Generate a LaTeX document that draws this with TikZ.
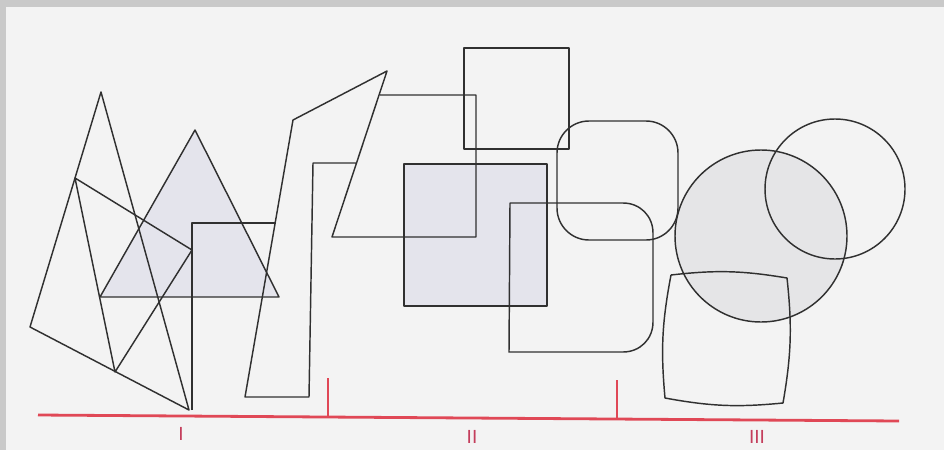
\documentclass[tikz,border=0pt]{standalone}
\usepackage{fontspec}
\setsansfont{Liberation Sans}
\usepackage{tikz}
\usepackage{xcolor}
\definecolor{paper}{RGB}{243,243,243}
\definecolor{frame}{RGB}{201,201,201}
\definecolor{ink}{RGB}{48,48,48}
\definecolor{tint}{RGB}{228,228,236}
\definecolor{disc}{RGB}{229,229,231}
\definecolor{rule}{RGB}{224,72,86}
\definecolor{numeral}{RGB}{196,62,92}

\begin{document}
\begin{tikzpicture}[x=1pt, y=-1pt,
  outline/.style={draw=ink, line width=1.45pt, line join=round},
  redline/.style={draw=rule, line width=2.8pt},
  redtick/.style={draw=rule, line width=2pt},
  numeral/.style={text=numeral, font=\sffamily\fontsize{19}{19}\selectfont, inner sep=0pt}]
\useasboundingbox (0,0) rectangle (944,450);
\fill[frame] (0,0) rectangle (944,450);
\fill[paper] (6,7) rectangle (944,450);

\fill[tint] (195,130) -- (100,297) -- (279,297) -- cycle;
\fill[tint] (404,164) rectangle (547,306);
\fill[disc] (761,236) circle (86);

\draw[outline] (195,130) -- (100,297) -- (279,297) -- cycle;
\draw[outline] (101,92) -- (30,327) -- (189,410) -- cycle;
\draw[outline] (75,178) -- (192,250) -- (115,372) -- cycle;
\draw[outline] (192,410) -- (192,223) -- (275,223);
\draw[outline] (357,163) -- (313,163) -- (309,397) -- (245,397) -- (293,120) -- (387,71)
  -- (332,237) -- (476,237) -- (476,95) -- (380,95);

\draw[outline] (464,48) rectangle (569,149);
\draw[outline] (404,164) rectangle (547,306);
\draw[outline] (510,203) -- (623,203) .. controls (640,203) and (653,216) .. (653,233)
  -- (653,322) .. controls (653,339) and (640,352) .. (623,352) -- (509,352) -- cycle;
\draw[outline, rounded corners=32pt] (557,121) rectangle (678,240);

\draw[outline] (761,236) circle (86);
\draw[outline] (835,189) circle (70);
\draw[outline] (671,275) to[bend left=8] (787,278) to[bend left=8] (783,403)
  to[bend left=8] (665,398) to[bend left=8] (671,275);

\draw[redline] (38,415) -- (899,421);
\draw[redtick] (328,378) -- (328,417);
\draw[redtick] (617,380) -- (617,419);
\node[numeral] (one) at (181,434) {I};
\node[numeral] (two) at (472,437) {II};
\node[numeral] (three) at (757,437) {III};
\end{tikzpicture}
\end{document}
